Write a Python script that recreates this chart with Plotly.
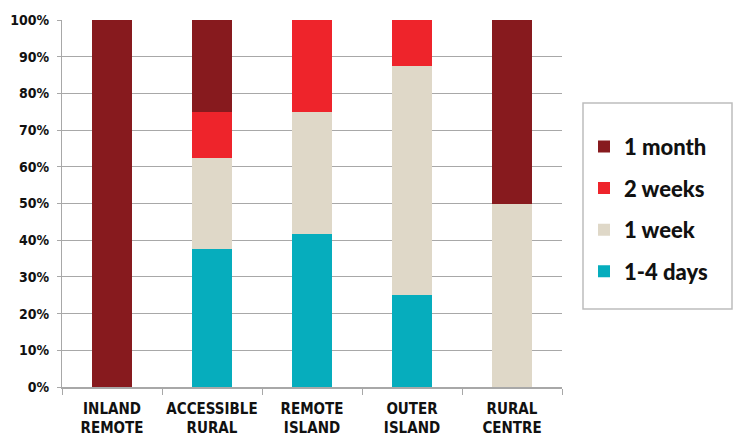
import plotly.graph_objects as go

# Share of households by how long stockpiles last, per location type (%)
categories = ["INLAND<br>REMOTE", "ACCESSIBLE<br>RURAL", "REMOTE<br>ISLAND", "OUTER<br>ISLAND", "RURAL<br>CENTRE"]
days_1_4 = [0, 37.5, 41.67, 25, 0]
week_1 = [0, 25, 33.33, 62.5, 50]
weeks_2 = [0, 12.5, 25, 12.5, 0]
month_1 = [100, 25, 0, 0, 50]

series = [
    ("1-4 days", days_1_4, "#06adbd", 4),
    ("1 week", week_1, "#dfd8c8", 3),
    ("2 weeks", weeks_2, "#ee242b", 2),
    ("1 month", month_1, "#871a1e", 1),
]
y_ticks = [0, 10, 20, 30, 40, 50, 60, 70, 80, 90, 100]

fig = go.Figure()
for name, vals, color, rank in series:
    fig.add_trace(go.Bar(
        x=categories, y=vals, name=name, legendgroup=name, legendrank=rank,
        marker=dict(color=color, line=dict(width=0)),
        width=0.4,
    ))

fig.update_layout(
    width=737, height=441,
    margin=dict(l=62, r=175, t=20, b=54),
    barmode="stack",
    plot_bgcolor="white", paper_bgcolor="white",
    showlegend=True,
    legend=dict(
        x=1.044, xanchor="left", y=0.712, yanchor="top",
        borderwidth=0, bgcolor="rgba(0,0,0,0)",
        traceorder="grouped", tracegroupgap=10,
        font=dict(family="Lato", size=22, color="#111111", weight=900),
    ),
    xaxis=dict(
        automargin=False,
        tickfont=dict(family="DejaVu Sans Condensed", size=15, color="#111111", weight="bold"),
        tickangle=0, ticklabelstandoff=7,
        showline=True, linecolor="#a8a8a8", linewidth=1.5,
        ticks="outside", tickson="boundaries", ticklen=6, tickcolor="#a8a8a8",
        showgrid=False,
    ),
    yaxis=dict(
        automargin=False,
        range=[0, 100], tickvals=y_ticks,
        ticktext=[f"{v}%" for v in y_ticks],
        tickfont=dict(family="DejaVu Sans Condensed", size=14, color="#111111", weight="bold"),
        ticklabelstandoff=5,
        showline=True, linecolor="#a8a8a8", linewidth=1,
        ticks="outside", ticklen=4, tickcolor="#a8a8a8",
        showgrid=True, gridcolor="#a8a8a8", gridwidth=1,
        zeroline=False,
    ),
    shapes=[dict(
        type="rect", xref="paper", yref="paper",
        x0=1.042, x1=1.34, y0=0.2125, y1=0.7738,
        line=dict(color="#bdbdbd", width=1.5), fillcolor="rgba(0,0,0,0)",
    )],
    annotations=[dict(
        text="Remaining stockpiles", xref="paper", yref="paper",
        x=-0.22, xanchor="left", y=1.085, yanchor="bottom",
        showarrow=False, font=dict(family="Open Sans", size=19, color="#111111"),
    )],
)

fig.write_html("out.html")
